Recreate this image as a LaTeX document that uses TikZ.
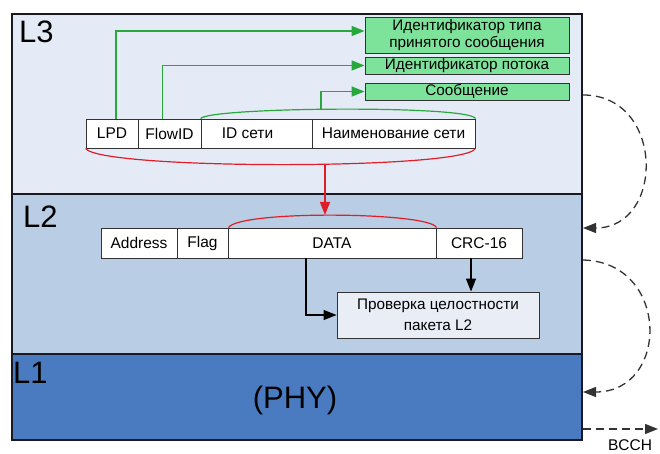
\documentclass[tikz,border=0pt]{standalone}
\usepackage{fontspec}
\setmainfont{Liberation Sans}
\usetikzlibrary{arrows.meta,calc}
\definecolor{lthree}{RGB}{228,235,246}
\definecolor{ltwo}{RGB}{185,205,228}
\definecolor{lone}{RGB}{74,123,192}
\definecolor{gbox}{RGB}{126,227,154}
\definecolor{gline}{RGB}{40,168,60}
\definecolor{rline}{RGB}{225,30,40}
\definecolor{edge}{RGB}{25,25,35}
\definecolor{chk}{RGB}{233,238,246}
\tikzset{
  layer/.style={draw=edge, line width=1.6pt, rectangle, anchor=north west, inner sep=0pt, minimum width=570pt},
  field/.style={draw=black!80, line width=0.9pt, fill=white, rectangle, inner sep=0pt, minimum height=29pt, font=\fontsize{15.5}{17}\selectfont},
  gfield/.style={draw=black!80, line width=0.9pt, fill=gbox, rectangle, inner sep=0pt, minimum width=204pt, align=center, font=\fontsize{15.3}{17.5}\selectfont},
  big/.style={inner sep=0pt, font=\fontsize{31}{33}\selectfont},
  garrow/.style={draw=gline, line width=1.4pt, -{Triangle[length=13pt,width=10pt]}},
  rarrow/.style={draw=rline, line width=1.3pt, -{Triangle[length=13pt,width=10pt]}},
  barrow/.style={draw=black, line width=1.2pt, -{Triangle[length=13pt,width=10pt]}},
  darrow/.style={draw=black!80, line width=1.3pt, dash pattern=on 8pt off 5pt, -{Triangle[length=13pt,width=10pt]}},
}
\begin{document}
\begin{tikzpicture}[x=1pt,y=-1pt]
\useasboundingbox (0,0) rectangle (660,454);
% layers
\node[layer, fill=lthree, minimum height=180pt] (l3) at (11,13) {};
\node[layer, fill=ltwo, minimum height=160pt] (l2) at (11,193) {};
\node[layer, fill=lone, minimum height=86pt] (l1) at (11,353) {};
\node[big, anchor=base west] (t3) at (19,43) {L3};
\node[big, anchor=base west] (t2) at (23,227) {L2};
\node[big, anchor=base west] (t1) at (13,383) {L1};
\node[big, anchor=base] (phy) at (295,408) {(PHY)};
% L3 fields
\node[field, minimum width=52pt] (lpd) at (112,133.5) {LPD};
\node[field, minimum width=63pt] (flow) at (169.5,133.5) {FlowID};
\node[field, minimum width=111pt] (idnet) at (256.5,133.5) {\hspace*{-18pt}ID сети};
\node[field, minimum width=163pt] (name) at (393.5,133.5) {Наименование сети};
% green boxes
\node[gfield, minimum height=36pt] (g1) at (467,35) {Идентификатор типа\\[-1pt]принятого сообщения};
\node[gfield, minimum height=17pt] (g2) at (467,65.5) {Идентификатор потока};
\node[gfield, minimum height=17pt] (g3) at (467,91.5) {Сообщение};
% green connectors
\draw[garrow] ([xshift=4pt]lpd.north) |- ([yshift=4pt]g1.west);
\draw[garrow] ([xshift=-6.8pt]flow.north) |- (g2.west);
\draw[draw=gline, line width=1.2pt] (idnet.north west) .. controls (210,107) and (470,105) .. (name.north east);
\coordinate (gtop) at (321,109.6);
\draw[garrow] (gtop) |- (g3.west);
% red arc in L3
\draw[draw=rline, line width=1.2pt] (lpd.south west) .. controls (100,170) and (465,170) .. (name.south east);
\coordinate (rbot) at (325,164.4);
% L2 fields
\node[field, minimum width=76pt, minimum height=30pt] (addr) at (139,243) {Address};
\node[field, minimum width=51pt, minimum height=30pt] (flag) at (202.5,243) {Flag};
\node[field, minimum width=208pt, minimum height=30pt] (data) at (332,243) {DATA};
\node[field, minimum width=86pt, minimum height=30pt] (crc) at (479,243) {CRC-16};
\draw[draw=rline, line width=1.2pt] (flag.north east) .. controls (240,210) and (430,212) .. (data.north east);
\coordinate (rtop) at (325,215);
\draw[rarrow] (rbot) -- (rtop);
% check box
\node[draw=black!80, line width=0.9pt, fill=chk, minimum width=202pt, minimum height=46pt, inner sep=0pt, align=center, font=\fontsize{15.3}{21}\selectfont] (check) at (438,315) {Проверка целостности\\пакета L2};
\draw[barrow] ([xshift=-26pt]data.south) |- (check.west);
\draw[barrow] ([xshift=-8pt]crc.south) -- ([xshift=-8pt]crc.south |- check.north);
% dashed arcs
\coordinate (a1) at (583,95);
\coordinate (b1) at (583,228);
\coordinate (a2) at (583,260);
\coordinate (b2) at (583,392);
\coordinate (c1) at (583,429);
\coordinate (c2) at (658,429);
\draw[darrow] (a1) .. controls (665,95) and (665,228) .. (b1);
\draw[darrow] (a2) .. controls (670,262) and (670,392) .. (b2);
\draw[darrow] (c1) -- (c2);
\node[anchor=base, inner sep=0pt, font=\fontsize{15.5}{17}\selectfont] (bcch) at (630,450) {BCCH};
\end{tikzpicture}
\end{document}
